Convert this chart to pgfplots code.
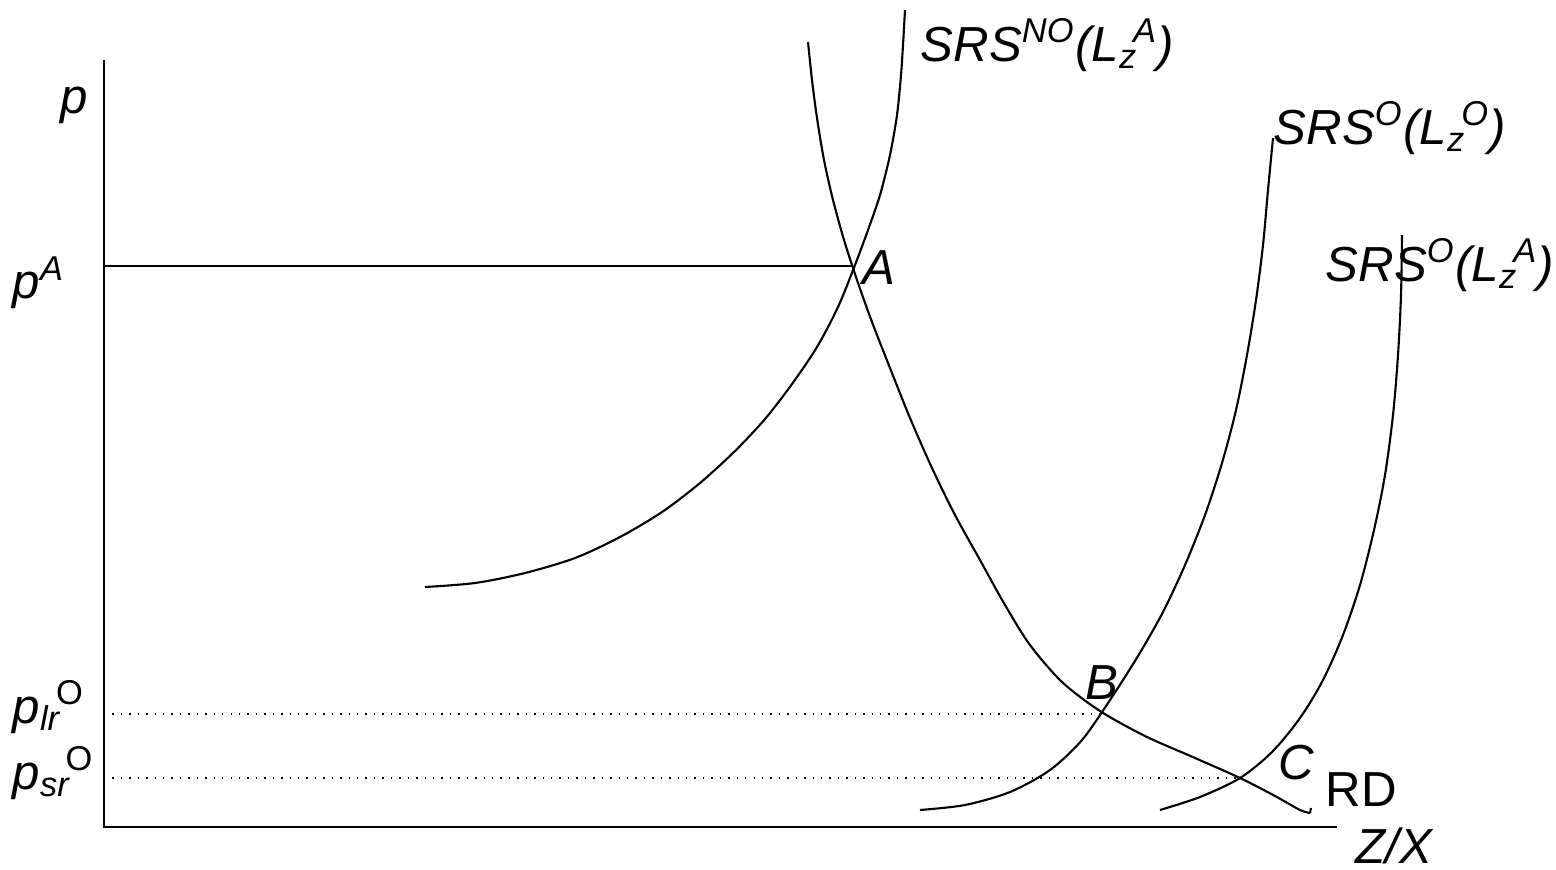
\documentclass[border=0pt]{standalone}
\usepackage{fontspec}
\setmainfont{Liberation Sans}
\usepackage{pgfplots}
\pgfplotsset{compat=1.18}

\newcommand{\sbp}[2]{\textsubscript{#1}\kern-0.1em\textsuperscript{#2}}

\begin{document}
\begin{tikzpicture}
\begin{axis}[
    hide axis,
    scale only axis,
    width=15.56cm, height=8.70cm,
    xmin=0, xmax=1556, ymin=0, ymax=870,
    y dir=reverse,
    clip=false,
]
% axes
\addplot[black, line width=0.8pt, no marks] coordinates {(104,60) (104,827) (1337,827)};
% price levels
\addplot[black, line width=0.55pt, no marks] coordinates {(104,266) (425,266)};
\addplot[black, line width=0.4pt, no marks] coordinates {(425,266) (852,266)};
\addplot[black, line width=0.4pt, dotted, no marks] coordinates {(104,714) (1100,714)};
\addplot[black, line width=0.4pt, dotted, no marks] coordinates {(104,778) (1240,778)};
% SRS^NO(L_z^A)
\addplot[black, line width=0.6pt, smooth, no marks] coordinates {
  (425,587) (475,583) (525,573) (575,558) (620,537) (662,512) (700,483)
  (735,451) (765,419) (792,384) (817,347) (838,307) (855,265) (868,230)
  (880,195) (890,155) (897,115) (901,75) (903,45) (905,10)};
% RD
\addplot[black, line width=0.6pt, smooth, no marks] coordinates {
  (808,42) (812,80) (817,118) (824,160) (833,200) (844,240) (857,280)
  (872,322) (890,368) (910,418) (932,468) (955,515) (980,560) (1005,605)
  (1030,645) (1062,682) (1100,711) (1145,736) (1195,758) (1240,778)
  (1275,796) (1300,810) (1310,813)};
\addplot[black, line width=0.6pt, no marks] coordinates {(1310,813) (1311,808)};
% SRS^O(L_z^O)
\addplot[black, line width=0.6pt, smooth, no marks] coordinates {
  (920,810) (965,805) (1010,792) (1050,770) (1082,740) (1110,700)
  (1138,656) (1163,612) (1185,565) (1205,515) (1222,463) (1236,410)
  (1247,355) (1256,300) (1263,245) (1268,190) (1273,138)};
% SRS^O(L_z^A)
\addplot[black, line width=0.6pt, smooth, no marks] coordinates {
  (1160,810) (1200,797) (1240,778) (1272,752) (1300,718) (1323,680)
  (1343,635) (1360,585) (1374,530) (1385,475) (1393,415) (1398,355)
  (1401,295) (1402,235)};
% labels
\begin{scope}[every node/.style={font=\fontsize{14}{16}\selectfont\itshape, inner sep=0pt}]
\node[anchor=west] at (axis cs:60,105) {p};
\node[anchor=west] at (axis cs:12,283) {p\textsuperscript{A}};
\node[anchor=west] at (axis cs:12,707) {p\sbp{lr}{\upshape O}};
\node[anchor=west] at (axis cs:12,773) {p\sbp{sr}{\upshape O}};
\node[anchor=west] at (axis cs:920,45) {SRS\textsuperscript{NO}(L\sbp{z}{A})};
\node[anchor=west] at (axis cs:1273,128) {SRS\textsuperscript{O}(L\sbp{z}{O})};
\node[anchor=west] at (axis cs:1325,265) {SRS\textsuperscript{O}(L\sbp{z}{A})};
\node[anchor=west] at (axis cs:862,268) {A};
\node[anchor=west] at (axis cs:1085,683) {B};
\node[anchor=west] at (axis cs:1278,763) {C};
\node[anchor=west] at (axis cs:1325,790) {\upshape RD};
\node[anchor=west] at (axis cs:1355,846) {Z/X};
\end{scope}
\end{axis}
\pgfresetboundingbox
\path (0,0) rectangle (15.56cm,8.70cm);
\end{tikzpicture}
\end{document}
